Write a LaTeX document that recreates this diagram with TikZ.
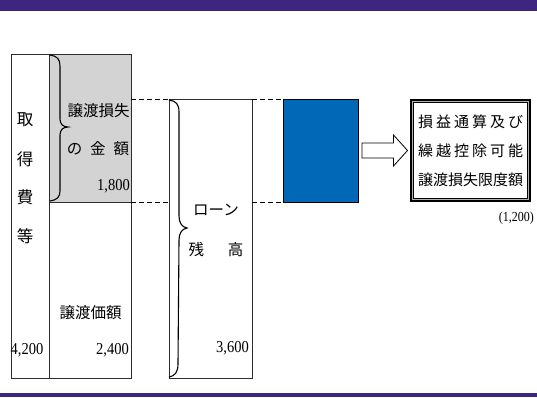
\documentclass[tikz,border=0pt]{standalone}
\usepackage{graphicx}
\usepackage{fontspec}
\setmainfont{Liberation Serif}
\newfontfamily\jpfont{Noto Sans CJK JP}
\usetikzlibrary{calc}
\definecolor{barpurple}{RGB}{61,38,128}
\definecolor{lossgray}{RGB}{211,211,211}
\definecolor{boxblue}{RGB}{0,104,183}
\definecolor{edgegray}{RGB}{45,45,45}
\newcommand\tallnum[1]{\scalebox{1}[1.15]{#1}}
\tikzset{
  colbox/.style={draw=edgegray, line width=0.9pt, inner sep=0pt, outer sep=0pt, anchor=north west},
  jp/.style={font=\jpfont\fontsize{15.5}{18}\selectfont, inner sep=0pt},
  jpbig/.style={font=\jpfont\fontsize{16.5}{18}\selectfont, inner sep=0pt},
  num/.style={font=\fontsize{14.5}{16}\selectfont, inner sep=0pt},
  guide/.style={draw=black, line width=1pt, dash pattern=on 5pt off 3pt},
  bracepath/.style={draw=black, line width=1.1pt},
}
\begin{document}
\begin{tikzpicture}[x=1pt,y=-1pt]
\useasboundingbox (0,0) rectangle (537,397);
\fill[white] (0,0) rectangle (537,397);
% bands
\fill[barpurple] (0,0) rectangle (537,11);
\fill[barpurple] (0,393) rectangle (537,397);

% columns
\node[colbox, minimum width=38pt, minimum height=324pt] (cost) at (11,54) {};
\node[colbox, fill=lossgray, minimum width=82pt, minimum height=148pt] (loss) at (49,54) {};
\node[colbox, minimum width=82pt, minimum height=176pt] (price) at (49,202) {};
\node[colbox, minimum width=83pt, minimum height=279pt] (loan) at (169,99) {};
\node[colbox, fill=boxblue, draw=black, minimum width=75pt, minimum height=103pt] (blue) at (283,99) {};

% result box with framed border
\node[draw=black, line width=3pt, fill=white, inner sep=0pt, minimum width=118pt, minimum height=100pt] (result) at (470.5,150.5) {};
\draw[gray!60, line width=1.4pt] ([shift={(2.3,2.3)}]result.north west) rectangle ([shift={(-2.3,-2.3)}]result.south east);
\draw[black, line width=0.8pt] ([shift={(3.6,3.6)}]result.north west) rectangle ([shift={(-3.6,-3.6)}]result.south east);

% dashed guides
\draw[guide] (loss.east |- loan.north west) -- (loan.north west);
\draw[guide] (loss.south east) -- (loan.west |- loss.south east);
\draw[guide] (loan.east |- blue.north west) -- (blue.north west);
\draw[guide] (loan.east |- blue.south west) -- (blue.south west);

% hollow block arrow from blue box to result box
\coordinate (arrowtail) at ($(blue.east)+(4,0)$);
\coordinate (arrowtip) at ($(result.west)+(-2.5,0)$);
\draw[black, line width=0.8pt, fill=white]
  ($(arrowtail)+(0,-7.5)$) -- ($(arrowtip)+(-14,-7.5)$) -- ($(arrowtip)+(-14,-15.5)$)
  -- (arrowtip) -- ($(arrowtip)+(-14,15.5)$) -- ($(arrowtip)+(-14,7.5)$)
  -- ($(arrowtail)+(0,7.5)$) -- cycle;

% braces
\draw[bracepath] (50,55) .. controls (57,56) and (60,59) .. (60,66) -- (60,119)
   .. controls (60,124) and (63,127) .. (68,127)
   .. controls (63,127) and (60,130) .. (60,135) -- (60,191)
   .. controls (60,197) and (57,200) .. (50,201);
\draw[bracepath] (169,100) .. controls (176,101) and (179,104) .. (179,112) -- (179,216)
   .. controls (179,223) and (182,227) .. (187,228)
   .. controls (182,229) and (179,233) .. (179,240) -- (178,364)
   .. controls (178,372) and (175,376) .. (169,377);

% texts
\node[jpbig] (c1) at (25,120) {取};
\node[jpbig] (c2) at (25,159) {得};
\node[jpbig] (c3) at (25,197) {費};
\node[jpbig] (c4) at (25,236) {等};
\node[jp] (lossA) at (98.5,111) {譲渡損失};
\node[jp] (lossB) at (98,149) {の\hspace{8pt}金\hspace{8pt}額};
\node[num, anchor=east] (lossN) at (130,186) {\tallnum{1,800}};
\node[jp] (priceA) at (90.5,313) {譲渡価額};
\node[num, anchor=west] (costN) at (10.5,350) {\tallnum{4,200}};
\node[num, anchor=east] (priceN) at (129,350) {\tallnum{2,400}};
\node[jp] (loanA) at (216,210) {ローン};
\node[jp] (loanB) at (216,250) {残\hspace{24pt}高};
\node[num, anchor=east] (loanN) at (249,348) {\tallnum{3,600}};
\node[font=\jpfont\fontsize{15}{29}\selectfont, align=center, inner sep=0pt] (resultT) at (result.center)
  {損\hspace{3pt}益\hspace{3pt}通\hspace{3pt}算\hspace{3pt}及\hspace{3pt}び\\
   繰\hspace{3pt}越\hspace{3pt}控\hspace{3pt}除\hspace{3pt}可\hspace{3pt}能\\
   譲渡損失限度額};
\node[font=\fontsize{12}{13}\selectfont, inner sep=0pt, anchor=east] (limitN) at (534,218) {\tallnum{(1,200)}};
\end{tikzpicture}
\end{document}
